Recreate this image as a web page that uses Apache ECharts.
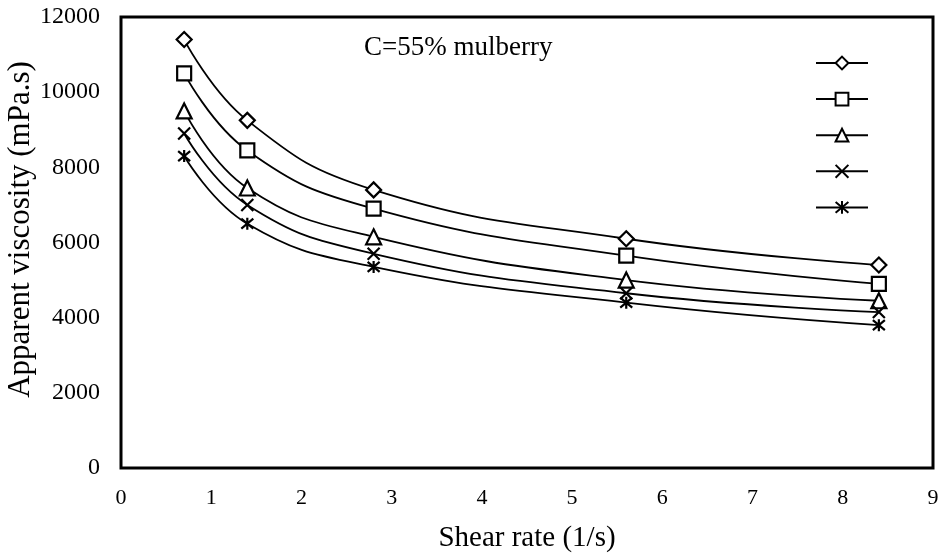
<!DOCTYPE html>
<html>
<head>
<meta charset="utf-8">
<script src="https://cdn.jsdelivr.net/npm/echarts@6/dist/echarts.min.js"></script>
<style>
	html, body { margin: 0; padding: 0; background: #fff; }
	#chart { width: 941px; height: 556px; }
</style>
</head>
<body>
<div id="chart"></div>
<script>
// shear rate (1/s)
const shearRate = [0.7, 1.4, 2.8, 5.6, 8.4]

// apparent viscosity (mPa.s), one array per curve
const visc1 = [11400, 9250, 7400, 6100, 5400]
const visc2 = [10500, 8450, 6900, 5650, 4900]
const visc3 = [9500, 7450, 6150, 5000, 4450]
const visc4 = [8900, 7000, 5700, 4650, 4150]
const visc5 = [8300, 6500, 5350, 4400, 3800]

const seriesNames = ['s1', 's2', 's3', 's4', 's5']
const font = '"Liberation Serif", "Times New Roman", serif'

const crossPath = 'path://M0,0L10,10M10,0L0,10'
const starPath = 'path://M0,0L10,10M10,0L0,10M5,-1L5,11'

const markers = [
	{ symbol: 'diamond', size: 15 },
	{ symbol: 'rect', size: 14 },
	{ symbol: 'triangle', size: 15 },
	{ symbol: crossPath, size: 12 },
	{ symbol: starPath, size: 12 }
]

function makeSeries(name, values, mk) {
	return {
		name: name,
		type: 'line',
		smooth: 0.45,
		data: shearRate.map((x, i) => [x, values[i]]),
		symbol: mk.symbol,
		symbolSize: mk.size,
		showAllSymbol: true,
		lineStyle: { color: '#000', width: 1.8 },
		itemStyle: {
			color: '#fff',
			borderColor: '#000',
			borderWidth: 2.2
		},
		emphasis: { disabled: true },
		z: 3
	}
}

const chart = echarts.init(document.getElementById('chart'))
const option = {
	animation: false,
	backgroundColor: '#fff',
	grid: {
		left: 121,
		right: 8,
		top: 17,
		bottom: 88,
		containLabel: false,
		outerBoundsMode: 'none',
		show: true,
		borderColor: '#000',
		borderWidth: 3,
		backgroundColor: 'transparent'
	},
	title: {
		text: 'C=55% mulberry',
		left: 359,
		top: 29,
		textStyle: {
			fontFamily: font,
			fontWeight: 'normal',
			fontSize: 27,
			color: '#000'
		}
	},
	legend: {
		orient: 'vertical',
		left: 810,
		top: 50,
		itemWidth: 52,
		itemHeight: 16,
		itemGap: 20.7,
		formatter: () => '',
		textStyle: { fontSize: 1 },
		data: seriesNames
	},
	xAxis: {
		type: 'value',
		min: 0,
		max: 9,
		interval: 1,
		name: 'Shear rate (1/s)',
		nameLocation: 'middle',
		nameGap: 56,
		nameMoveOverlap: false,
		nameTextStyle: { fontFamily: font, fontSize: 29, color: '#000' },
		axisLine: { show: false },
		axisTick: { show: false },
		splitLine: { show: false },
		axisLabel: { fontFamily: font, fontSize: 22, color: '#000', margin: 19 }
	},
	yAxis: {
		type: 'value',
		min: 0,
		max: 12000,
		interval: 2000,
		name: 'Apparent viscosity (mPa.s)',
		nameLocation: 'middle',
		nameGap: 85,
		nameMoveOverlap: false,
		nameTextStyle: {
			fontFamily: font,
			fontSize: 31,
			color: '#000',
			padding: [0, 0, 0, 26]
		},
		axisLine: { show: false },
		axisTick: { show: false },
		splitLine: { show: false },
		axisLabel: {
			fontFamily: font,
			fontSize: 24,
			color: '#000',
			margin: 21,
			formatter: (v) => String(v)
		}
	},
	series: [
		makeSeries(seriesNames[0], visc1, markers[0]),
		makeSeries(seriesNames[1], visc2, markers[1]),
		makeSeries(seriesNames[2], visc3, markers[2]),
		makeSeries(seriesNames[3], visc4, markers[3]),
		makeSeries(seriesNames[4], visc5, markers[4])
	]
}
chart.setOption(option)
</script>
</body>
</html>
